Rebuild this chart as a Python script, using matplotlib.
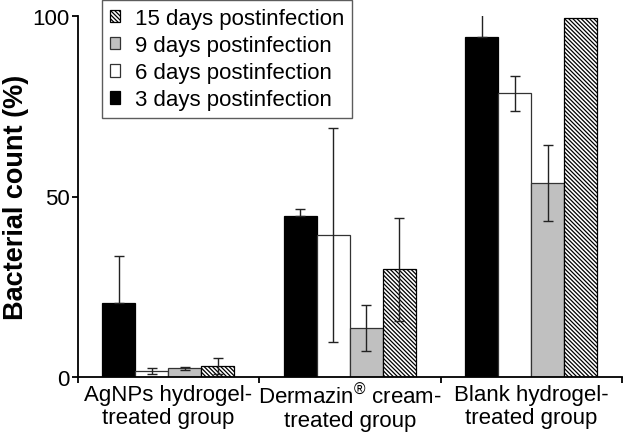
import matplotlib
matplotlib.use("Agg")
import matplotlib.pyplot as plt
import numpy as np

plt.rcParams['font.family'] = ['Liberation Sans', 'DejaVu Sans']
plt.rcParams['mathtext.fontset'] = 'custom'
plt.rcParams['mathtext.rm'] = 'Liberation Sans'
plt.rcParams['hatch.linewidth'] = 0.9

groups = ["AgNPs hydrogel-\ntreated group",
          "Dermazin$^{\u00ae}$ cream-\ntreated group",
          "Blank hydrogel-\ntreated group"]
series = ["3 days postinfection", "6 days postinfection",
          "9 days postinfection", "15 days postinfection"]
day3 = [20.5, 44.5, 94.3]
day6 = [1.7, 39.3, 78.6]
day9 = [2.4, 13.6, 53.7]
day15 = [3.0, 29.8, 99.5]
err3 = [13.1, 2.0, 7.0]
err6 = [0.9, 29.7, 4.8]
err9 = [0.4, 6.4, 10.6]
err15 = [2.3, 14.2, 0.0]
yticks = [0, 50, 100]

values = [day3, day6, day9, day15]
errors = [err3, err6, err9, err15]
styles = [dict(color='black', edgecolor='black'),
          dict(color='white', edgecolor='#333333'),
          dict(color='#c0c0c0', edgecolor='#333333'),
          dict(color='white', edgecolor='black', hatch='\\' * 8)]

fig = plt.figure(figsize=(6.23, 4.35), dpi=100)
ax = fig.add_axes([77.7/623, 1-378/435, (622-77.7)/623, 361/435])

x = np.arange(len(groups))
w = 0.182
handles = []
for i, (vals, errs, st) in enumerate(zip(values, errors, styles)):
    pos = x + (i - 1.5) * w
    b = ax.bar(pos, vals, w, linewidth=0.9, label=series[i], zorder=2, **st)
    handles.append(b)
    e = np.array(errs)
    mask = e > 0
    lower = np.zeros_like(e[mask]) if i == 0 else e[mask]
    ax.errorbar(pos[mask], np.array(vals)[mask], yerr=[lower, e[mask]], fmt='none',
                ecolor='#222222', elinewidth=1.0, capsize=3.5, capthick=1.0, zorder=3)

ax.set_xlim(-0.5, 2.5)
ax.set_ylim(0, 100)
ax.spines['top'].set_visible(False)
ax.spines['right'].set_visible(False)
ax.spines['left'].set_bounds(0, 100)
ax.spines['left'].set_linewidth(1.3)
ax.spines['bottom'].set_linewidth(1.3)

ax.set_yticks(yticks)
ax.set_yticklabels([str(t) for t in yticks], fontsize=16)
ax.set_xticks([-0.5, 0.5, 1.5, 2.5])
ax.set_xticklabels([])
ax.set_xticks(x, minor=True)
ax.set_xticklabels(groups, minor=True, fontsize=16, linespacing=1.12)
ax.tick_params(axis='x', which='minor', length=0, pad=5)
ax.tick_params(axis='both', which='major', length=4, width=1.3, direction='out', pad=2)

ax.set_ylabel("Bacterial count (%)", fontsize=19.5, fontweight='bold')
ax.yaxis.set_label_coords((29 - 77.7) / 544.3, 0.5)

leg = ax.legend(handles[::-1], series[::-1], loc='upper left',
                bbox_to_anchor=(102/623, 1-1/435), bbox_transform=fig.transFigure,
                fontsize=16, frameon=True, fancybox=False, edgecolor='#333333',
                handlelength=0.45, handleheight=0.5, handletextpad=0.7,
                labelspacing=0.28, borderpad=0.35, borderaxespad=0)
leg.get_frame().set_linewidth(1.0)

fig.savefig("out.png", dpi=100)
